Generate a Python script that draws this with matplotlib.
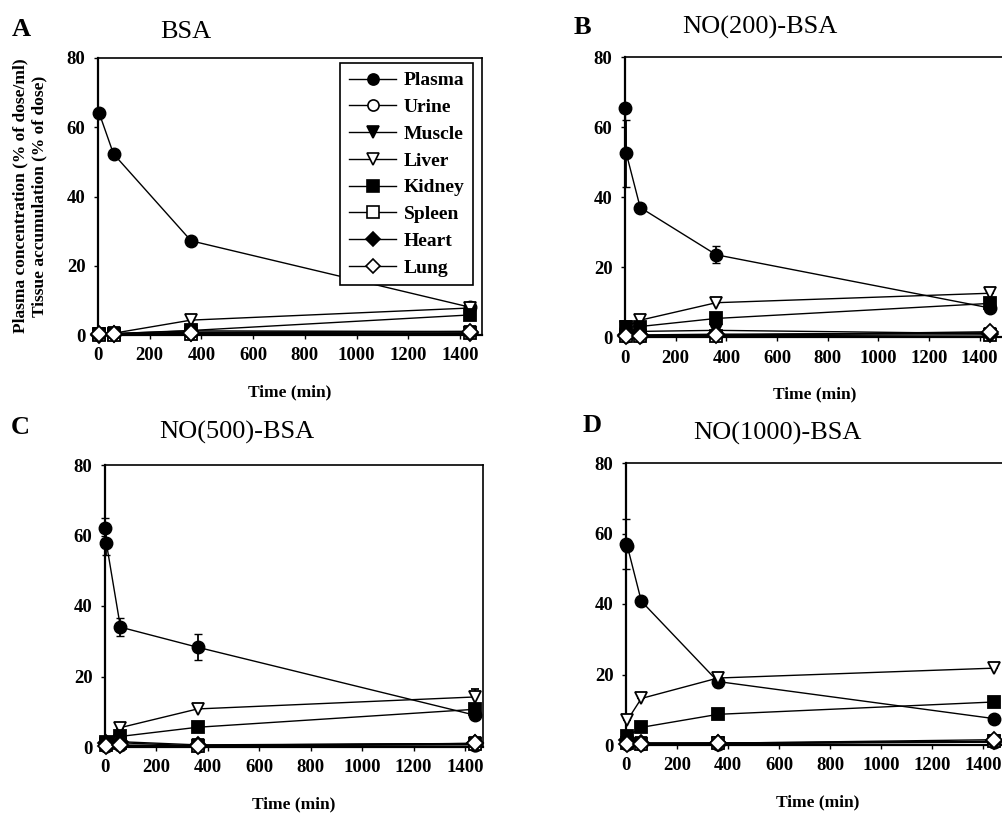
import numpy as np
import matplotlib.pyplot as plt
from matplotlib.lines import Line2D

plt.rcParams['font.family'] = ['Liberation Serif', 'DejaVu Serif']
plt.rcParams['font.weight'] = 'bold'

# time points (min)
t_plasma_A = [5, 60, 360, 1440]
t_plasma = [1, 5, 60, 360, 1440]
t_tissue = [5, 60, 360, 1440]

# A : BSA
plasma_A = [64.0, 52.3, 27.2, 8.0]
plasma_err_A = [0, 0, 0, 0]
urine_A = [0.2, 0.3, 0.8, 1.0]
muscle_A = [0.2, 0.4, 1.2, 1.0]
liver_A = [0.3, 0.5, 4.3, 7.8]
liver_err_A = [0, 0, 0, 0]
kidney_A = [0.2, 0.4, 1.3, 5.8]
spleen_A = [0.1, 0.1, 0.3, 0.5]
heart_A = [0.1, 0.2, 0.5, 0.6]
lung_A = [0.3, 0.3, 0.6, 1.0]

# B : NO(200)-BSA
plasma_B = [65.5, 52.5, 37.0, 23.5, 8.3]
plasma_err_B = [0, 9.5, 0, 2.4, 0]
urine_B = [0.3, 0.4, 0.6, 1.2]
muscle_B = [0.8, 1.6, 1.9, 1.0]
liver_B = [3.0, 4.8, 9.8, 12.5]
liver_err_B = [0, 0, 0, 0]
kidney_B = [2.8, 3.0, 5.3, 9.6]
spleen_B = [0.2, 0.3, 0.4, 0.6]
heart_B = [0.5, 0.6, 0.8, 1.0]
lung_B = [0.3, 0.3, 0.5, 1.5]

# C : NO(500)-BSA
plasma_C = [62.0, 58.0, 34.0, 28.3, 9.0]
plasma_err_C = [3.0, 3.5, 2.6, 3.7, 0]
urine_C = [0.3, 0.5, 0.4, 0.6]
muscle_C = [0.8, 0.0, 0.5, 1.0]
liver_C = [1.0, 5.5, 10.8, 14.2]
liver_err_C = [0, 0, 0, 2.2]
kidney_C = [1.5, 3.0, 5.6, 10.7]
spleen_C = [0.5, 1.2, 0.3, 0.8]
heart_C = [1.0, 1.5, 0.6, 1.0]
lung_C = [0.3, 0.5, 0.3, 1.0]

# D : NO(1000)-BSA
plasma_D = [57.0, 56.5, 40.8, 18.0, 7.5]
plasma_err_D = [7.0, 0, 1.0, 1.5, 0]
urine_D = [0.3, 0.3, 0.4, 0.8]
muscle_D = [0.5, 0.5, 0.5, 1.0]
liver_D = [7.0, 13.2, 19.0, 21.8]
liver_err_D = [0, 0, 1.2, 0]
kidney_D = [2.5, 5.0, 8.7, 12.2]
spleen_D = [0.5, 0.4, 0.5, 1.0]
heart_D = [1.5, 0.6, 0.6, 1.0]
lung_D = [0.3, 0.3, 0.5, 1.5]

panel_letters = ['A', 'B', 'C', 'D']
panel_titles = ['BSA', 'NO(200)-BSA', 'NO(500)-BSA', 'NO(1000)-BSA']
series_names = ['Plasma', 'Urine', 'Muscle', 'Liver', 'Kidney', 'Spleen', 'Heart', 'Lung']
x_ticks = [0, 200, 400, 600, 800, 1000, 1200, 1400]
y_ticks = [0, 20, 40, 60, 80]

panels = [
    dict(tp=t_plasma_A, plasma=plasma_A, perr=plasma_err_A, liver_err=liver_err_A,
         tissue=[urine_A, muscle_A, liver_A, kidney_A, spleen_A, heart_A, lung_A]),
    dict(tp=t_plasma, plasma=plasma_B, perr=plasma_err_B, liver_err=liver_err_B,
         tissue=[urine_B, muscle_B, liver_B, kidney_B, spleen_B, heart_B, lung_B]),
    dict(tp=t_plasma, plasma=plasma_C, perr=plasma_err_C, liver_err=liver_err_C,
         tissue=[urine_C, muscle_C, liver_C, kidney_C, spleen_C, heart_C, lung_C]),
    dict(tp=t_plasma, plasma=plasma_D, perr=plasma_err_D, liver_err=liver_err_D,
         tissue=[urine_D, muscle_D, liver_D, kidney_D, spleen_D, heart_D, lung_D]),
]

# marker, filled?
styles = [('o', True), ('o', False), ('v', True), ('v', False),
          ('s', True), ('s', False), ('D', True), ('D', False)]

W, H = 1003, 818
fig = plt.figure(figsize=(W / 100, H / 100), dpi=100)

def px(x0, y0, x1, y1):
    return [x0 / W, 1 - y1 / H, (x1 - x0) / W, (y1 - y0) / H]

rects = [px(98, 58, 482, 335), px(625, 57, 1005, 337),
         px(105, 465, 483, 747), px(626, 463, 1009, 745)]
xmax = [1485, 1500, 1470, 1500]
letter_pos = [(21, 30), (582, 27), (20, 427), (592, 425)]
title_pos = [(186, 32), (760, 27), (237, 432), (777, 433)]

def msize(mk):
    return 8 if mk == 'D' else 9

for i, p in enumerate(panels):
    ax = fig.add_axes(rects[i])
    # plasma
    ax.errorbar(p['tp'], p['plasma'], yerr=p['perr'], fmt='-o', color='k', lw=1,
                ms=9, mfc='k', mec='k', ecolor='k', elinewidth=1.3, capsize=3,
                zorder=3, clip_on=False)
    # tissues
    for j, vals in enumerate(p['tissue']):
        mk, filled = styles[j + 1]
        err = p['liver_err'] if series_names[j + 1] == 'Liver' else None
        ax.errorbar(t_tissue, vals, yerr=err, fmt='-' + mk, color='k', lw=1,
                    ms=msize(mk), mfc='k' if filled else 'w', mec='k', mew=1.3,
                    ecolor='k', elinewidth=1.3, capsize=3, zorder=3, clip_on=False)
    ax.set_xlim(0, xmax[i])
    ax.set_ylim(0, 80)
    ax.set_xticks(x_ticks)
    ax.set_yticks(y_ticks)
    ax.tick_params(direction='out', length=3, width=1, labelsize=13.5, pad=6)
    for s in ax.spines.values():
        s.set_linewidth(1.2)
    for s in ['bottom', 'left']:
        ax.spines[s].set_linewidth(1.6)
    for lab in ax.get_xticklabels() + ax.get_yticklabels():
        lab.set_fontweight('bold')
    ax.set_xlabel('Time (min)', fontsize=12.5, fontweight='bold', labelpad=14)

    fig.text(letter_pos[i][0] / W, 1 - letter_pos[i][1] / H, panel_letters[i],
             fontsize=19, fontweight='bold', ha='center', va='center')
    fig.text(title_pos[i][0] / W, 1 - title_pos[i][1] / H, panel_titles[i],
             fontsize=19, fontweight='normal', ha='center', va='center')

    if i == 0:
        handles = []
        for (mk, filled), name in zip(styles, series_names):
            handles.append(Line2D([], [], color='k', lw=1, marker=mk, ms=msize(mk) - 1,
                                  mfc='k' if filled else 'w', mec='k', mew=1.2))
        leg = ax.legend(handles, series_names, loc='upper right',
                        bbox_to_anchor=(0.977, 0.982), borderaxespad=0, fontsize=14,
                        handlelength=2.4, handletextpad=0.4, labelspacing=0.47,
                        borderpad=0.45, fancybox=False, edgecolor='k', framealpha=1)
        leg.get_frame().set_linewidth(1.2)

fig.text(30 / W, 1 - 196 / H,
         'Plasma concentration (% of dose/ml)\nTissue accumulation (% of dose)',
         rotation=90, ha='center', va='center', fontsize=12.5, fontweight='bold',
         linespacing=1.25)

plt.savefig('out.png', dpi=100)
